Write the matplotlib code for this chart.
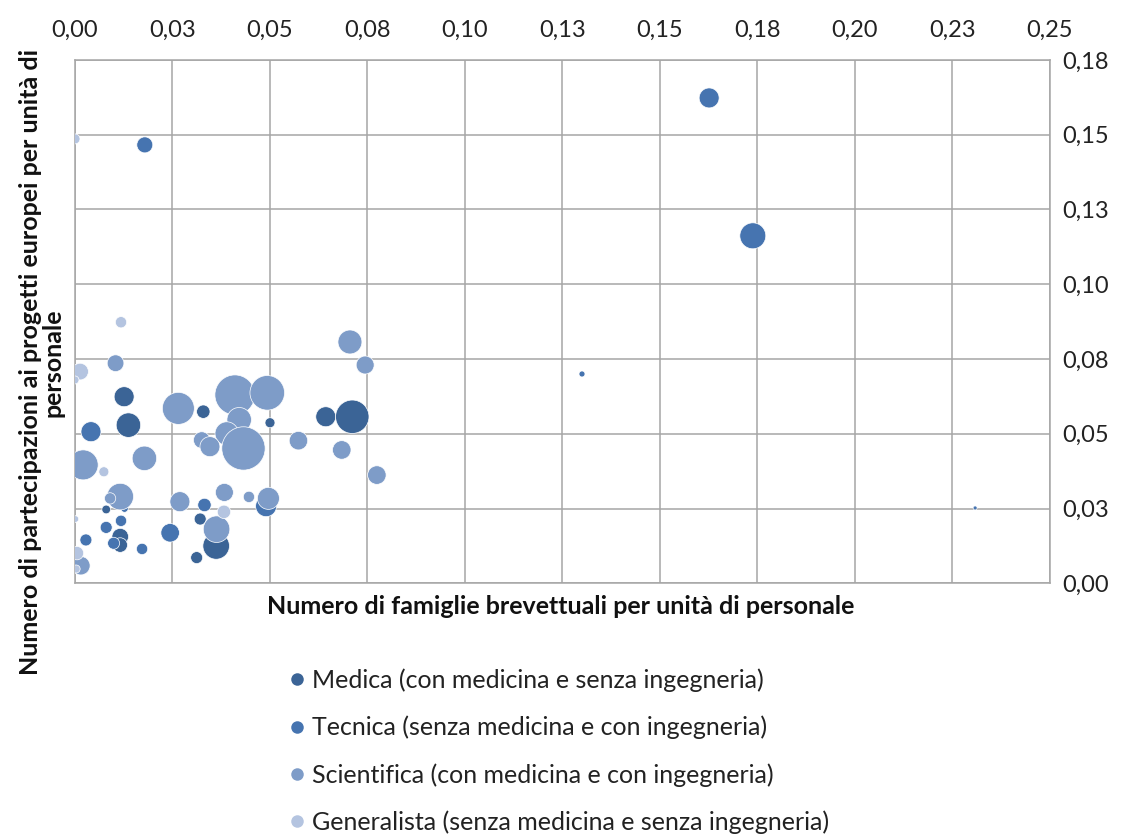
import matplotlib
matplotlib.use("Agg")
import matplotlib.pyplot as plt
from matplotlib.lines import Line2D

plt.rcParams['font.family'] = ['Lato', 'DejaVu Sans']

# assi
x_ticks = [0.0, 0.025, 0.05, 0.075, 0.10, 0.125, 0.15, 0.175, 0.20, 0.225, 0.25]
x_tick_labels = ['0,00', '0,03', '0,05', '0,08', '0,10', '0,13', '0,15', '0,18', '0,20', '0,23', '0,25']
y_ticks = [0.0, 0.025, 0.05, 0.075, 0.10, 0.125, 0.15, 0.175]
y_tick_labels = ['0,00', '0,03', '0,05', '0,08', '0,10', '0,13', '0,15', '0,18']

# Medica (con medicina e senza ingegneria)
medica_x = [0.0126, 0.0137, 0.0329, 0.0500, 0.0643, 0.0711, 0.0080, 0.0116, 0.0116, 0.0321, 0.0362, 0.0312]
medica_y = [0.0624, 0.0529, 0.0574, 0.0537, 0.0557, 0.0557, 0.0247, 0.0156, 0.0128, 0.0215, 0.0125, 0.0086]
medica_z = [100, 150, 45, 25, 100, 280, 19, 69, 53, 36, 177, 36]

# Tecnica (senza medicina e con ingegneria)
tecnica_x = [0.1626, 0.1738, 0.1300, 0.2308, 0.0179, 0.0041, 0.0332, 0.0490, 0.0244, 0.0118,
             0.0080, 0.0028, 0.0172, 0.0099, 0.0127]
tecnica_y = [0.1623, 0.1162, 0.0700, 0.0252, 0.1466, 0.0507, 0.0262, 0.0258, 0.0169, 0.0209,
             0.0187, 0.0145, 0.0115, 0.0134, 0.0250]
tecnica_z = [100, 169, 9, 4, 64, 100, 45, 110, 86, 32, 36, 36, 32, 36, 14]

# Scientifica (con medicina e con ingegneria)
scient_x = [0.0705, 0.0744, 0.0104, 0.0265, 0.0410, 0.0493, 0.0421, 0.0389, 0.0325, 0.0346,
            0.0432, 0.0573, 0.0684, 0.0774, 0.0021, 0.0178, 0.0116, 0.0090, 0.0269, 0.0383,
            0.0446, 0.0496, 0.0363, 0.0015]
scient_y = [0.0807, 0.0730, 0.0736, 0.0585, 0.0630, 0.0637, 0.0547, 0.0501, 0.0479, 0.0457,
            0.0451, 0.0477, 0.0446, 0.0362, 0.0396, 0.0418, 0.0290, 0.0284, 0.0273, 0.0304,
            0.0289, 0.0284, 0.0181, 0.0059]
scient_z = [144, 81, 70, 256, 400, 300, 150, 137, 69, 100,
            470, 86, 86, 86, 225, 150, 177, 32, 100, 81,
            32, 121, 177, 86]

# Generalista (senza medicina e senza ingegneria)
gen_x = [0.0000, 0.0118, 0.0013, 0.0074, 0.0382, 0.0001, 0.0005, 0.0000, 0.0003]
gen_y = [0.1486, 0.0873, 0.0708, 0.0373, 0.0239, 0.0215, 0.0101, 0.0680, 0.0048]
gen_z = [25, 32, 70, 25, 45, 11, 45, 16, 16]

series = [
    ('Medica (con medicina e senza ingegneria)', medica_x, medica_y, medica_z, '#3b6496'),
    ('Tecnica (senza medicina e con ingegneria)', tecnica_x, tecnica_y, tecnica_z, '#4674b0'),
    ('Scientifica (con medicina e con ingegneria)', scient_x, scient_y, scient_z, '#7e9cc8'),
    ('Generalista (senza medicina e senza ingegneria)', gen_x, gen_y, gen_z, '#b4c4e0'),
]

fig = plt.figure(figsize=(11.26, 8.35), dpi=100)
ax = fig.add_axes([0.0666, 0.3014, 0.8659, 0.6268])

# z e' il raggio^2 in pixel -> area in punti^2
for name, xs, ys, zs, col in series:
    ax.scatter(xs, ys, s=[z * 2.07 for z in zs], color=col, edgecolors='white',
               linewidths=0.5, zorder=3, clip_on=True)

ax.set_xlim(0, 0.25)
ax.set_ylim(0, 0.175)
ax.set_xticks(x_ticks)
ax.set_xticklabels(x_tick_labels)
ax.set_yticks(y_ticks)
ax.set_yticklabels(y_tick_labels)
ax.xaxis.tick_top()
ax.yaxis.tick_right()
ax.tick_params(axis='both', length=0, labelsize=17, colors='#222222')
ax.tick_params(axis='x', pad=14)
ax.tick_params(axis='y', pad=9)
ax.grid(True, color='#a6a6a6', linewidth=1.1, zorder=0)
ax.set_axisbelow(True)
for sp in ax.spines.values():
    sp.set_color('#a6a6a6')
    sp.set_linewidth(1.1)

fig.text(0.498, 0.274, 'Numero di famiglie brevettuali per unità di personale',
         ha='center', va='center', fontsize=18, fontweight='bold', color='#111111')
fig.text(0.0373, 0.566, 'Numero di partecipazioni ai progetti europei per unità di\npersonale',
         ha='center', va='center', rotation=90, multialignment='center',
         fontsize=18, fontweight='bold', color='#111111', linespacing=1.0)

handles = [Line2D([], [], linestyle='none', marker='o', markersize=9,
                  markerfacecolor=s[4], markeredgecolor='none') for s in series]
fig.legend(handles, [s[0] for s in series], loc='upper left',
           bbox_to_anchor=(0.257, 0.1994), frameon=False, fontsize=18,
           handlelength=0.6, handletextpad=0.3, labelspacing=0.95,
           borderpad=0, borderaxespad=0, labelcolor='#222222')

fig.savefig('out.png', dpi=100)
